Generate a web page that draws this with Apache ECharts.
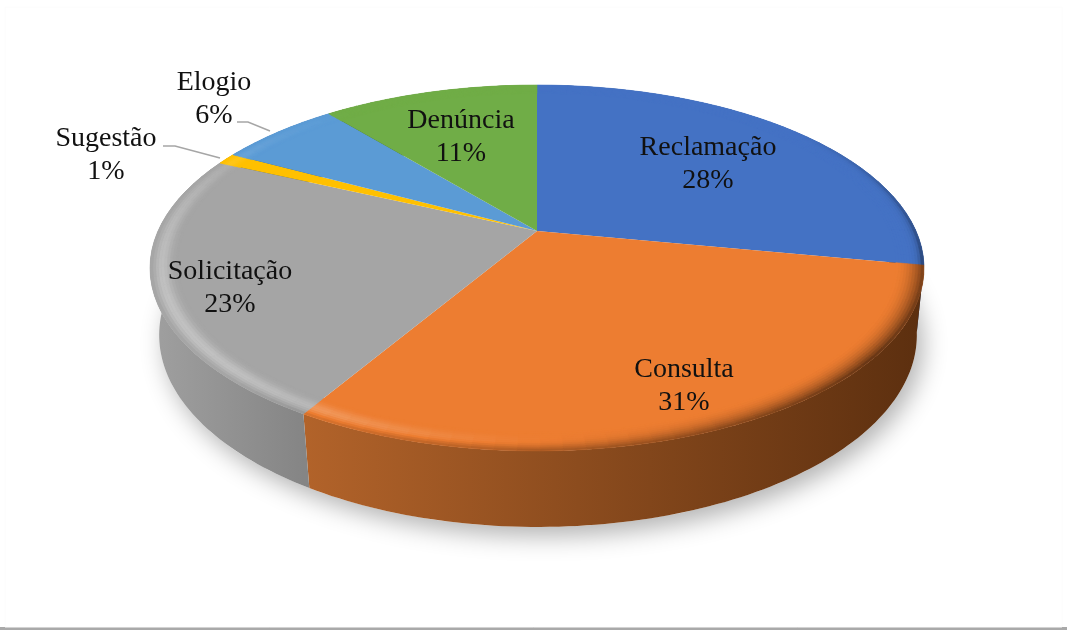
<!DOCTYPE html>
<html>
<head>
<meta charset="utf-8">
<style>
  html, body { margin: 0; padding: 0; background: #fff; }
  #main { width: 1067px; height: 630px; }
</style>
<script src="https://cdn.jsdelivr.net/npm/echarts@6/dist/echarts.min.js"></script>
</head>
<body>
<div id="main"></div>
<script>
// valores (angulos das fatias), rotulo = valor arredondado
const categories = ["Reclamação", "Consulta", "Solicitação", "Sugestão", "Elogio", "Denúncia"];
const values = [28, 30.5, 23.4, 1, 6.15, 10.95];
const colors = ["#4472C4", "#ED7D31", "#A5A5A5", "#FFC000", "#5B9BD5", "#70AD47"];

// layout: centro dos rotulos e linhas de chamada
const labelAt = [[708, 148], [684, 370], [230, 272], [106, 139], [214, 83], [461, 121]];
const leaders = { 3: [[163, 146], [175, 146], [220, 158]], 4: [[237, 122], [248, 122], [270, 131]] };
// gradiente da parede lateral, por x na tela
const wallStops = {
  0: ["#2a4678", "#1f3560"],
  1: ["#b2632a", "#5c2f0f"],
  2: ["#a0a0a0", "#858585"],
  3: ["#9a7400", "#9a7400"],
  4: ["#37618a", "#37618a"],
  5: ["#44692b", "#44692b"]
};

// projecao em perspectiva do disco
const cx = 537, cy = 231, A = 379, B = 175.5, k = 0.2022;
function project(theta, r) {
  const u = r * Math.sin(theta), v = r * Math.cos(theta), w = 1 + k * v;
  return [cx + A * u / w, cy - B * v / w];
}
function projectBottom(theta) {
  const p = project(theta, 1);
  return [538 + (p[0] - cx) * 0.979, 335 + (p[1] - 268) * 1.049];
}
function mix(hex, target, a) {
  const n = parseInt(hex.slice(1), 16);
  const c = [n >> 16, (n >> 8) & 255, n & 255].map(x => Math.round(x + (target - x) * a));
  return "rgb(" + c.join(",") + ")";
}
function arc(a0, a1, fn) {
  const n = Math.max(2, Math.ceil((a1 - a0) / 0.02));
  const pts = [];
  for (let i = 0; i <= n; i++) pts.push(fn(a0 + (a1 - a0) * i / n));
  return pts;
}
// sombreado do chanfro: claro na frente-esquerda, escuro na frente-direita
function rimColor(base, theta, t) {
  const deg = theta * 180 / Math.PI;
  const bell = Math.pow(Math.sin(Math.PI * Math.pow(t, 1.3)), 2);
  const light = Math.pow(Math.max(0, Math.cos((deg - 240) * Math.PI / 180)), 2) * bell * 0.32;
  let d = 0, p = 2;
  if (deg > 50 && deg <= 100) { d = 0.8 * (deg - 50) / 50; p = 7; }
  else if (deg > 100 && deg <= 130) d = 0.8 + 0.2 * (deg - 100) / 30;
  else if (deg > 130 && deg < 225) d = 1 - (deg - 130) / 95;
  const dark = d * Math.pow(t, p) * 0.62;
  if (dark > light) return mix(base, 0, dark - light);
  return mix(base, 255, light - dark);
}

const total = values.reduce((a, b) => a + b, 0);
const starts = [];
values.reduce((acc, v, i) => { starts[i] = acc; return acc + v; }, 0);

function renderSlice(params, api) {
  const i = params.dataIndex;
  const a0 = starts[i] / total * 2 * Math.PI;
  const a1 = a0 + api.value(0) / total * 2 * Math.PI;
  const base = colors[i];
  const children = [];

  if (i === 0) {
    // sombra projetada sob o disco
    children.push({
      type: "polygon", z2: 0,
      shape: { points: arc(0, 2 * Math.PI, projectBottom) },
      style: { fill: "#fff", shadowBlur: 24, shadowColor: "rgba(0,0,0,0.3)", shadowOffsetX: 6, shadowOffsetY: 9 }
    });
  }

  // parede lateral
  const top = arc(a0, a1, t => project(t, 1));
  const bottom = arc(a0, a1, projectBottom).reverse();
  const xs = top.map(p => p[0]);
  const stops = wallStops[i];
  children.push({
    type: "polygon", z2: 1,
    shape: { points: top.concat(bottom) },
    style: {
      fill: new echarts.graphic.LinearGradient(Math.min.apply(null, xs), 0, Math.max.apply(null, xs), 0, [
        { offset: 0, color: stops[0] }, { offset: 1, color: stops[1] }
      ], true)
    }
  });

  // face superior
  children.push({
    type: "polygon", z2: 2,
    shape: { points: [[cx, cy]].concat(arc(a0, a1, t => project(t, 1))) },
    style: { fill: base }
  });

  // chanfro em faixas finas
  const bands = 10, r0 = 0.93;
  for (let b = 0; b < bands; b++) {
    const r1 = r0 + (1 - r0) * b / bands, r2 = r0 + (1 - r0) * (b + 1) / bands;
    const n = Math.max(1, Math.ceil((a1 - a0) / 0.05));
    for (let s = 0; s < n; s++) {
      const t0 = a0 + (a1 - a0) * s / n, t1 = a0 + (a1 - a0) * (s + 1) / n;
      const col = rimColor(base, (t0 + t1) / 2, (b + 0.5) / bands);
      children.push({
        type: "polygon", z2: 3,
        shape: { points: [project(t0, r1), project(t1, r1), project(t1, r2), project(t0, r2)] },
        style: { fill: col, stroke: col, lineWidth: 0.6 }
      });
    }
  }

  // linha de chamada
  if (leaders[i]) {
    children.push({
      type: "polyline", z2: 4,
      shape: { points: leaders[i] },
      style: { fill: null, stroke: "#a6a6a6", lineWidth: 1.5 }
    });
  }

  // rotulos
  const font = "28px 'Liberation Serif'";
  const pos = labelAt[i];
  children.push({
    type: "text", z2: 5,
    style: { x: pos[0], y: pos[1], text: categories[i], font: font, fill: "#111", textAlign: "center", textVerticalAlign: "middle" }
  });
  children.push({
    type: "text", z2: 5,
    style: { x: pos[0], y: pos[1] + 33, text: Math.round(api.value(0)) + "%", font: font, fill: "#111", textAlign: "center", textVerticalAlign: "middle" }
  });

  return { type: "group", children: children };
}

const myChart = echarts.init(document.getElementById("main"));
myChart.setOption({
  animation: false,
  backgroundColor: "#fff",
  graphic: [
    { type: "rect", z: 0, shape: { x: 0, y: 627, width: 1067, height: 3 }, style: { fill: "#a9a9a9" } },
    { type: "rect", z: 0, shape: { x: 5, y: 7, width: 1057, height: 620 }, style: { fill: "none", stroke: "#fcfcfc", lineWidth: 1 } }
  ],
  series: [{
    type: "custom",
    coordinateSystem: "none",
    silent: true,
    data: values.map((v, i) => ({ name: categories[i], value: [v] })),
    renderItem: renderSlice
  }]
});
</script>
</body>
</html>
